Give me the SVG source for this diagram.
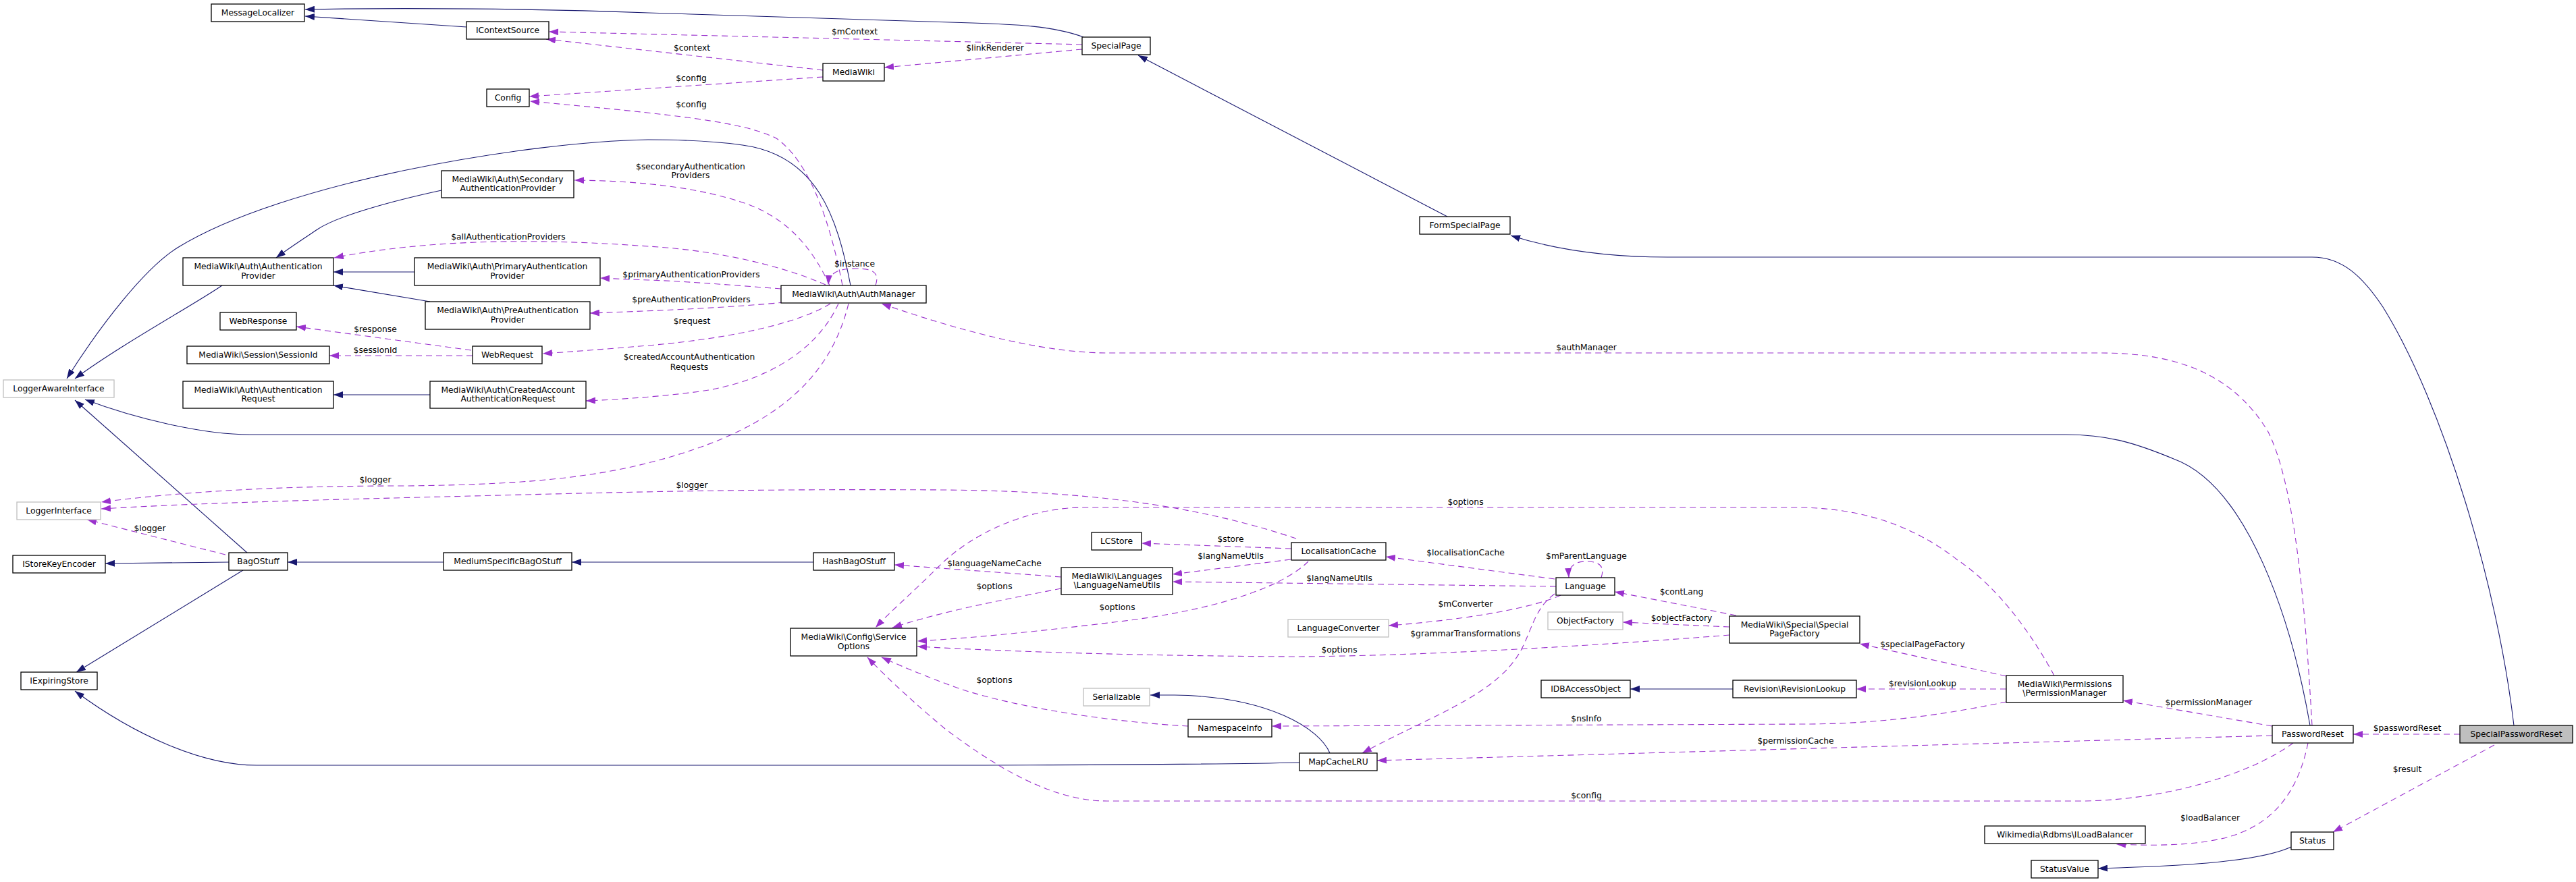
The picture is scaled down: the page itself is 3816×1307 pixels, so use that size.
<svg xmlns="http://www.w3.org/2000/svg" width="3816" height="1307" viewBox="0 0 3816 1307">
<style>
text{font-family:"DejaVu Sans","Liberation Sans",sans-serif;font-size:12.3px;fill:#000}
.node rect{fill:#fff;stroke:#000;stroke-width:1.3}
.node.gray rect{stroke:#bfbfbf}
.node.root rect{fill:#bfbfbf}
.node text,.lbl{text-anchor:middle}
.inh{fill:none;stroke:#191970;stroke-width:1.1;marker-end:url(#ab)}
.use{fill:none;stroke:#9a32cd;stroke-width:1.1;stroke-dasharray:9 6;marker-end:url(#ap)}
</style>
<defs>
<marker id="ab" markerUnits="userSpaceOnUse" viewBox="0 0 14 10" markerWidth="14" markerHeight="10" refX="14" refY="5" orient="auto"><path d="M0,0 L14,5 L0,10 z" fill="#191970"/></marker>
<marker id="ap" markerUnits="userSpaceOnUse" viewBox="0 0 14 10" markerWidth="14" markerHeight="10" refX="14" refY="5" orient="auto"><path d="M0,0 L14,5 L0,10 z" fill="#9a32cd"/></marker>
</defs>
<rect width="3816" height="1307" fill="#fff"/>
<g id="connectors">
<path class="inh" d="M1605,55 C1560,38 1500,36 1440,34 L960,19 C800,13 600,11 452,14"/>
<path class="inh" d="M691,40 L452,24"/>
<path class="inh" d="M2144,321 L1686,82"/>
<path class="inh" d="M3724,1075 C3700,870 3620,600 3530,455 C3500,410 3470,381 3425,381 L2470,381 C2390,381 2310,372 2238,349"/>
<path class="inh" d="M1260,423 C1240,320 1210,230 1100,215 C1050,208 1000,207 960,207 C780,210 420,270 263,367 C215,397 150,480 99,561"/>
<path class="inh" d="M329,423 C290,450 180,510 111,561"/>
<path class="inh" d="M654,282 C580,298 500,320 470,340 C445,357 425,370 409,382"/>
<path class="inh" d="M614,403 L494,403"/>
<path class="inh" d="M637,447 L494,423"/>
<path class="inh" d="M637,585 L494,585"/>
<path class="inh" d="M3422,1075 C3395,920 3330,720 3220,680 C3160,655 3120,644 3060,644 L370,644 C300,644 200,620 126,592"/>
<path class="inh" d="M366,819 L111,593"/>
<path class="inh" d="M339,833 L156,835"/>
<path class="inh" d="M360,845 L113,996"/>
<path class="inh" d="M1925,1130 C1800,1133 1500,1134 1400,1134 L380,1134 C300,1134 200,1090 111,1024"/>
<path class="inh" d="M657,833 L426,833"/>
<path class="inh" d="M1205,833 L847,833"/>
<path class="inh" d="M1970,1116 C1955,1080 1880,1032 1740,1030 L1704,1030"/>
<path class="inh" d="M2567,1021 L2415,1021"/>
<path class="inh" d="M3394,1255 C3340,1280 3200,1284 3108,1287"/>

<path class="use" d="M1603,66 L813,47"/>
<path class="use" d="M1603,73 L1310,100"/>
<path class="use" d="M1219,104 L809,58"/>
<path class="use" d="M1219,114 L784,143"/>
<path class="use" d="M1248,423 C1230,330 1200,240 1150,205 C1100,180 1000,170 785,150"/>
<path class="use" d="M1229,423 C1200,360 1160,320 1100,300 C1040,280 960,268 851,267"/>
<path class="use" d="M1297,423 C1303,405 1295,398 1268,398 C1240,398 1228,405 1227,422"/>
<path class="use" d="M1223,422 C1150,390 1050,370 960,365 C850,357 750,355 650,362 C580,367 530,375 495,382"/>
<path class="use" d="M1157,428 C1080,422 1000,416 960,415 C930,414 910,413 889,412"/>
<path class="use" d="M1162,448 C1090,455 990,460 874,464"/>
<path class="use" d="M1230,450 C1190,475 1100,500 960,512 C900,517 850,521 804,524"/>
<path class="use" d="M1242,450 C1215,510 1150,560 1050,578 C1000,586 920,592 868,594"/>
<path class="use" d="M1257,450 C1230,560 1150,630 1000,675 C900,705 800,718 600,720 C450,720 300,725 150,744"/>
<path class="use" d="M698,519 L439,484"/>
<path class="use" d="M700,527 L488,527"/>
<path class="use" d="M1920,798 C1800,758 1650,728 1400,726 C1100,724 900,730 700,735 C500,740 300,745 150,754"/>
<path class="use" d="M334,822 L129,770"/>
<path class="use" d="M3043,1001 C3010,940 2960,870 2900,830 C2830,775 2750,752 2660,752 L1600,752 C1520,754 1440,790 1390,840 C1350,880 1320,905 1297,930"/>
<path class="use" d="M1572,872 C1480,890 1400,905 1322,930"/>
<path class="use" d="M1572,855 L1325,837"/>
<path class="use" d="M1913,813 L1691,805"/>
<path class="use" d="M1912,829 L1737,851"/>
<path class="use" d="M1938,832 C1900,870 1800,905 1650,922 C1550,934 1450,945 1359,950"/>
<path class="use" d="M2303,858 L2053,825"/>
<path class="use" d="M2305,869 L1737,862"/>
<path class="use" d="M2372,856 C2378,838 2368,832 2350,832 C2332,832 2323,840 2324,856"/>
<path class="use" d="M2312,882 C2260,905 2150,920 2057,927"/>
<path class="use" d="M2303,880 C2275,900 2270,930 2255,960 C2220,1030 2120,1060 2018,1116"/>
<path class="use" d="M2572,912 L2392,877"/>
<path class="use" d="M2562,929 L2404,922"/>
<path class="use" d="M2562,941 C2350,958 2100,972 1920,973 C1700,972 1500,966 1359,958"/>
<path class="use" d="M2972,1002 L2755,954"/>
<path class="use" d="M2972,1021 L2750,1021"/>
<path class="use" d="M2972,1040 C2900,1055 2800,1072 2680,1073 L1884,1076"/>
<path class="use" d="M1760,1076 C1650,1070 1510,1050 1420,1020 C1370,1002 1330,985 1306,974"/>
<path class="use" d="M3366,1076 L3145,1038"/>
<path class="use" d="M3366,1090 L2040,1127"/>
<path class="use" d="M3397,1101 C3330,1150 3200,1187 3080,1187 L1640,1187 C1560,1187 1480,1140 1400,1080 C1340,1030 1300,990 1285,974"/>
<path class="use" d="M3419,1101 C3405,1170 3370,1225 3290,1243 C3240,1254 3180,1253 3135,1251"/>
<path class="use" d="M3644,1088 L3486,1088"/>
<path class="use" d="M3695,1104 L3456,1233"/>
<path class="use" d="M3425,1075 C3415,900 3400,720 3360,640 C3300,540 3200,523 3110,523 L1640,523 C1560,523 1450,500 1306,450"/>

<text class="lbl" x="1266" y="51">$mContext</text>
<text class="lbl" x="1474" y="75">$linkRenderer</text>
<text class="lbl" x="1025" y="75">$context</text>
<text class="lbl" x="1024" y="120">$config</text>
<text class="lbl" x="1024" y="159">$config</text>
<text class="lbl" x="1023" y="251">$secondaryAuthentication</text>
<text class="lbl" x="1023" y="264">Providers</text>
<text class="lbl" x="1266" y="395">$instance</text>
<text class="lbl" x="753" y="355">$allAuthenticationProviders</text>
<text class="lbl" x="1024" y="411">$primaryAuthenticationProviders</text>
<text class="lbl" x="1024" y="448">$preAuthenticationProviders</text>
<text class="lbl" x="1025" y="480">$request</text>
<text class="lbl" x="1021" y="533">$createdAccountAuthentication</text>
<text class="lbl" x="1021" y="548">Requests</text>
<text class="lbl" x="556" y="715">$logger</text>
<text class="lbl" x="556" y="492">$response</text>
<text class="lbl" x="556" y="523">$sessionId</text>
<text class="lbl" x="1025" y="723">$logger</text>
<text class="lbl" x="222" y="787">$logger</text>
<text class="lbl" x="2171" y="748">$options</text>
<text class="lbl" x="1473" y="873">$options</text>
<text class="lbl" x="1473" y="839">$languageNameCache</text>
<text class="lbl" x="1823" y="803">$store</text>
<text class="lbl" x="1823" y="828">$langNameUtils</text>
<text class="lbl" x="1655" y="904">$options</text>
<text class="lbl" x="2171" y="823">$localisationCache</text>
<text class="lbl" x="1984" y="861">$langNameUtils</text>
<text class="lbl" x="2350" y="828">$mParentLanguage</text>
<text class="lbl" x="2171" y="899">$mConverter</text>
<text class="lbl" x="2171" y="943">$grammarTransformations</text>
<text class="lbl" x="2491" y="881">$contLang</text>
<text class="lbl" x="2491" y="920">$objectFactory</text>
<text class="lbl" x="1984" y="967">$options</text>
<text class="lbl" x="2848" y="959">$specialPageFactory</text>
<text class="lbl" x="2848" y="1017">$revisionLookup</text>
<text class="lbl" x="2350" y="1069">$nsInfo</text>
<text class="lbl" x="1473" y="1012">$options</text>
<text class="lbl" x="3272" y="1045">$permissionManager</text>
<text class="lbl" x="2660" y="1102">$permissionCache</text>
<text class="lbl" x="2350" y="1183">$config</text>
<text class="lbl" x="3274" y="1216">$loadBalancer</text>
<text class="lbl" x="3566" y="1083">$passwordReset</text>
<text class="lbl" x="3566" y="1144">$result</text>
<text class="lbl" x="2350" y="519">$authManager</text>
</g>

<g id="n_MessageLocalizer" class="node"><rect x="313" y="6" width="138" height="26"/><text x="382" y="22.5">MessageLocalizer</text></g>
<g id="n_IContextSource" class="node"><rect x="691" y="32" width="122" height="26"/><text x="752" y="48.5">IContextSource</text></g>
<g id="n_SpecialPage" class="node"><rect x="1603" y="55" width="101" height="26"/><text x="1653.5" y="71.5">SpecialPage</text></g>
<g id="n_MediaWiki" class="node"><rect x="1219" y="94" width="91" height="26"/><text x="1264.5" y="110.5">MediaWiki</text></g>
<g id="n_Config" class="node"><rect x="721" y="132" width="63" height="26"/><text x="752.5" y="148.5">Config</text></g>
<g id="n_SecondaryAuthenticationProvider" class="node"><rect x="654" y="253" width="196" height="40"/><text x="752" y="269.8">MediaWiki\Auth\Secondary</text><text x="752" y="283.2">AuthenticationProvider</text></g>
<g id="n_FormSpecialPage" class="node"><rect x="2103" y="321" width="134" height="26"/><text x="2170" y="337.5">FormSpecialPage</text></g>
<g id="n_AuthenticationProvider" class="node"><rect x="271" y="382" width="223" height="41"/><text x="382.5" y="399.3">MediaWiki\Auth\Authentication</text><text x="382.5" y="412.7">Provider</text></g>
<g id="n_PrimaryAuthenticationProvider" class="node"><rect x="614" y="382" width="275" height="41"/><text x="751.5" y="399.3">MediaWiki\Auth\PrimaryAuthentication</text><text x="751.5" y="412.7">Provider</text></g>
<g id="n_AuthManager" class="node"><rect x="1157" y="423" width="215" height="26"/><text x="1264.5" y="439.5">MediaWiki\Auth\AuthManager</text></g>
<g id="n_PreAuthenticationProvider" class="node"><rect x="630" y="447" width="244" height="41"/><text x="752" y="464.3">MediaWiki\Auth\PreAuthentication</text><text x="752" y="477.7">Provider</text></g>
<g id="n_WebResponse" class="node"><rect x="326" y="463" width="113" height="26"/><text x="382.5" y="479.5">WebResponse</text></g>
<g id="n_SessionId" class="node"><rect x="277" y="513" width="211" height="26"/><text x="382.5" y="529.5">MediaWiki\Session\SessionId</text></g>
<g id="n_WebRequest" class="node"><rect x="700" y="513" width="103" height="26"/><text x="751.5" y="529.5">WebRequest</text></g>
<g id="n_LoggerAwareInterface" class="node gray"><rect x="5" y="563" width="164" height="26"/><text x="87" y="579.5">LoggerAwareInterface</text></g>
<g id="n_AuthenticationRequest" class="node"><rect x="271" y="565" width="223" height="40"/><text x="382.5" y="581.8">MediaWiki\Auth\Authentication</text><text x="382.5" y="595.2">Request</text></g>
<g id="n_CreatedAccountAuthenticationRequest" class="node"><rect x="637" y="565" width="231" height="40"/><text x="752.5" y="581.8">MediaWiki\Auth\CreatedAccount</text><text x="752.5" y="595.2">AuthenticationRequest</text></g>
<g id="n_LoggerInterface" class="node gray"><rect x="25" y="744" width="124" height="26"/><text x="87" y="760.5">LoggerInterface</text></g>
<g id="n_LCStore" class="node"><rect x="1617" y="789" width="74" height="26"/><text x="1654" y="805.5">LCStore</text></g>
<g id="n_LocalisationCache" class="node"><rect x="1913" y="804" width="140" height="26"/><text x="1983" y="820.5">LocalisationCache</text></g>
<g id="n_IStoreKeyEncoder" class="node"><rect x="19" y="823" width="137" height="26"/><text x="87.5" y="839.5">IStoreKeyEncoder</text></g>
<g id="n_BagOStuff" class="node"><rect x="339" y="819" width="87" height="26"/><text x="382.5" y="835.5">BagOStuff</text></g>
<g id="n_MediumSpecificBagOStuff" class="node"><rect x="657" y="819" width="190" height="26"/><text x="752" y="835.5">MediumSpecificBagOStuff</text></g>
<g id="n_HashBagOStuff" class="node"><rect x="1205" y="819" width="120" height="26"/><text x="1265" y="835.5">HashBagOStuff</text></g>
<g id="n_LanguageNameUtils" class="node"><rect x="1572" y="841" width="165" height="40"/><text x="1654.5" y="857.8">MediaWiki\Languages</text><text x="1654.5" y="871.2">\LanguageNameUtils</text></g>
<g id="n_Language" class="node"><rect x="2305" y="856" width="87" height="26"/><text x="2348.5" y="872.5">Language</text></g>
<g id="n_LanguageConverter" class="node gray"><rect x="1908" y="918" width="149" height="26"/><text x="1982.5" y="934.5">LanguageConverter</text></g>
<g id="n_ObjectFactory" class="node gray"><rect x="2293" y="907" width="111" height="26"/><text x="2348.5" y="923.5">ObjectFactory</text></g>
<g id="n_SpecialPageFactory" class="node"><rect x="2562" y="913" width="193" height="40"/><text x="2658.5" y="929.8">MediaWiki\Special\Special</text><text x="2658.5" y="943.2">PageFactory</text></g>
<g id="n_ServiceOptions" class="node"><rect x="1171" y="931" width="187" height="41"/><text x="1264.5" y="948.3">MediaWiki\Config\Service</text><text x="1264.5" y="961.7">Options</text></g>
<g id="n_IExpiringStore" class="node"><rect x="31" y="996" width="113" height="26"/><text x="87.5" y="1012.5">IExpiringStore</text></g>
<g id="n_IDBAccessObject" class="node"><rect x="2283" y="1008" width="132" height="26"/><text x="2349" y="1024.5">IDBAccessObject</text></g>
<g id="n_RevisionLookup" class="node"><rect x="2567" y="1008" width="183" height="26"/><text x="2658.5" y="1024.5">Revision\RevisionLookup</text></g>
<g id="n_PermissionManager" class="node"><rect x="2972" y="1001" width="173" height="40"/><text x="3058.5" y="1017.8">MediaWiki\Permissions</text><text x="3058.5" y="1031.2">\PermissionManager</text></g>
<g id="n_Serializable" class="node gray"><rect x="1605" y="1020" width="98" height="26"/><text x="1654" y="1036.5">Serializable</text></g>
<g id="n_NamespaceInfo" class="node"><rect x="1760" y="1066" width="124" height="26"/><text x="1822" y="1082.5">NamespaceInfo</text></g>
<g id="n_PasswordReset" class="node"><rect x="3366" y="1075" width="120" height="26"/><text x="3426" y="1091.5">PasswordReset</text></g>
<g id="n_SpecialPasswordReset" class="node root"><rect x="3644" y="1075" width="167" height="26"/><text x="3727.5" y="1091.5">SpecialPasswordReset</text></g>
<g id="n_MapCacheLRU" class="node"><rect x="1925" y="1116" width="115" height="26"/><text x="1982.5" y="1132.5">MapCacheLRU</text></g>
<g id="n_ILoadBalancer" class="node"><rect x="2940" y="1224" width="238" height="26"/><text x="3059" y="1240.5">Wikimedia\Rdbms\ILoadBalancer</text></g>
<g id="n_Status" class="node"><rect x="3394" y="1233" width="63" height="26"/><text x="3425.5" y="1249.5">Status</text></g>
<g id="n_StatusValue" class="node"><rect x="3009" y="1275" width="99" height="26"/><text x="3058.5" y="1291.5">StatusValue</text></g>
</svg>
